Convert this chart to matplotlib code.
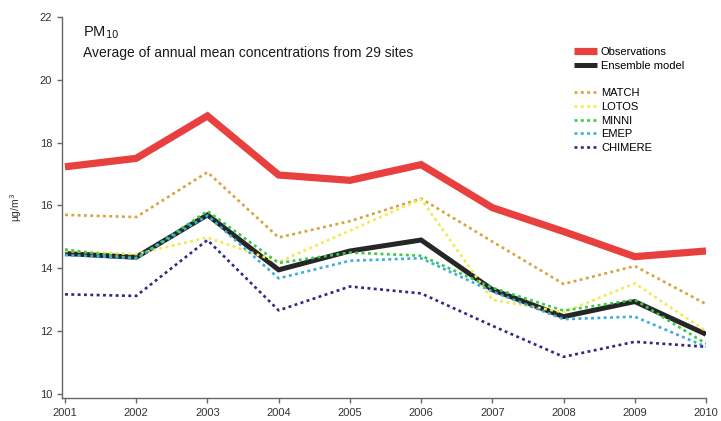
import matplotlib
matplotlib.use('Agg')
import matplotlib.pyplot as plt
from matplotlib.lines import Line2D

plt.rcParams['font.family'] = ['Liberation Sans', 'DejaVu Sans']

years = [2001, 2002, 2003, 2004, 2005, 2006, 2007, 2008, 2009, 2010]

observations = [17.23, 17.5, 18.85, 16.97, 16.8, 17.3, 15.93, 15.17, 14.37, 14.55]
ensemble = [14.47, 14.35, 15.7, 13.95, 14.55, 14.9, 13.32, 12.46, 12.94, 11.9]

match = [15.7, 15.63, 17.06, 14.98, 15.5, 16.22, 14.85, 13.5, 14.07, 12.86]
lotos = [14.55, 14.45, 14.98, 14.2, 15.2, 16.2, 13.0, 12.6, 13.52, 12.0]
minni = [14.6, 14.3, 15.82, 14.17, 14.5, 14.4, 13.38, 12.65, 13.0, 11.6]
emep = [14.42, 14.33, 15.68, 13.68, 14.24, 14.32, 13.26, 12.38, 12.46, 11.5]
chimere = [13.17, 13.12, 14.9, 12.66, 13.42, 13.2, 12.17, 11.18, 11.66, 11.5]

models = ['MATCH', 'LOTOS', 'MINNI', 'EMEP', 'CHIMERE']
model_values = [match, lotos, minni, emep, chimere]
model_colors = ['#d8a43c', '#f2ea50', '#3cc84a', '#3aaedc', '#2c2a82']

fig = plt.figure(figsize=(7.21, 4.21), dpi=100)
ax = fig.add_axes([62 / 721, 23 / 421, 644 / 721, 381 / 421])

ax.plot(years, observations, color='#e8403f', lw=5.2, solid_joinstyle='miter',
        solid_capstyle='butt', label='Observations', zorder=2)
ax.plot(years, ensemble, color='#262626', lw=3.6, solid_joinstyle='miter',
        solid_capstyle='butt', label='Ensemble model', zorder=3)

for name, vals, col in zip(models, model_values, model_colors):
    ax.plot(years, vals, color=col, lw=1.9, dashes=(1.1, 1.3),
            label=name, zorder=4)

ax.set_xlim(2000.958, 2010)
ax.set_ylim(9.87, 22.0)
ax.set_xticks(years)
ax.set_yticks([10, 12, 14, 16, 18, 20, 22])

for s in ['top', 'right']:
    ax.spines[s].set_visible(False)
for s in ['left', 'bottom']:
    ax.spines[s].set_color('#666666')
    ax.spines[s].set_linewidth(1.0)
ax.tick_params(colors='#666666', labelcolor='#333333', labelsize=8,
               length=3.5, width=1.0)

ax.set_ylabel('µg/m$^3$', fontsize=7.5, color='#333333', labelpad=11)

ax.text(0.033, 0.96, 'PM$_{10}$', transform=ax.transAxes, fontsize=10.5,
        color='#1a1a1a', va='center')
ax.text(0.033, 0.905, 'Average of annual mean concentrations from 29 sites',
        transform=ax.transAxes, fontsize=10, color='#1a1a1a', va='center')

# blank row separates the two thick lines from the model runs
handles, labels = ax.get_legend_handles_labels()
blank = Line2D([], [], color='none')
handles = handles[:2] + [blank] + handles[2:]
labels = labels[:2] + [' '] + labels[2:]
ax.legend(handles, labels, loc='upper left', bbox_to_anchor=(0.786, 0.935),
          frameon=False, fontsize=8, handlelength=2.1, handletextpad=0.35,
          labelspacing=0.33, borderpad=0)

fig.savefig('out.png', dpi=100)
